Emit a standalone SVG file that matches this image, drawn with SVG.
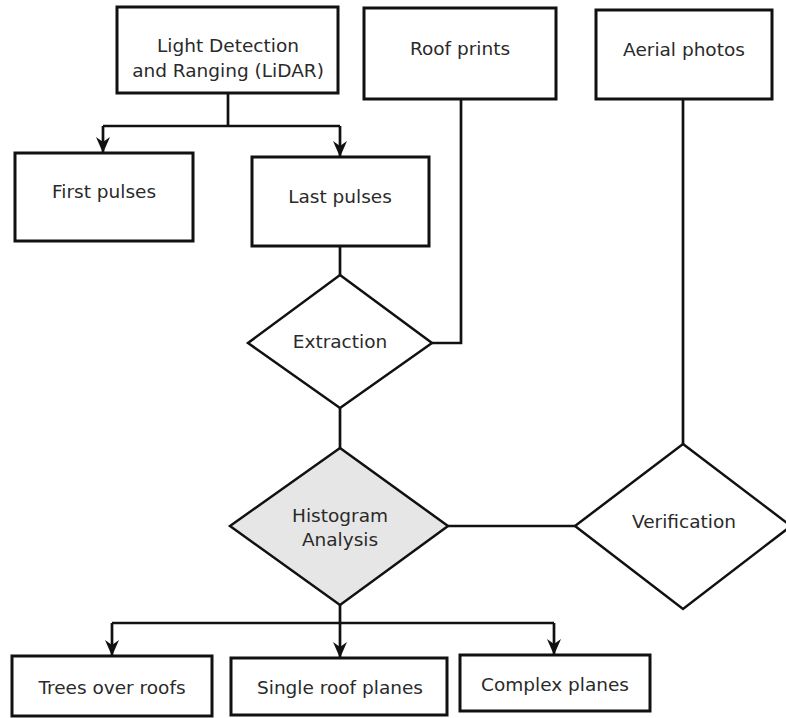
<svg xmlns="http://www.w3.org/2000/svg" width="786" height="718" viewBox="0 0 786 718">
<style>
.box{fill:#fff;stroke:#111;stroke-width:3}
.dia{fill:#fff;stroke:#111;stroke-width:2.5}
.gray{fill:#e6e6e6}
.t{font-family:"DejaVu Sans",Verdana,sans-serif;font-size:18.5px;fill:#2a2a2a;text-anchor:middle;dominant-baseline:central}
.c{fill:none;stroke:#111;stroke-width:2.7}
</style>
<defs>
<marker id="arr" viewBox="0 0 16 14" refX="16" refY="7" markerWidth="16" markerHeight="14" markerUnits="userSpaceOnUse" orient="auto">
<path d="M0,0 L16,7 L0,14 L5,7 z" fill="#111"/>
</marker>
</defs>
<g id="connectors">
<path class="c" d="M228,93 V126"/>
<path class="c" d="M103,126 H340"/>
<path class="c" d="M103,126 V153" marker-end="url(#arr)"/>
<path class="c" d="M340,126 V157" marker-end="url(#arr)"/>
<path class="c" d="M340,246 V275"/>
<path class="c" d="M461,99 V343 H432"/>
<path class="c" d="M340,408 V448"/>
<path class="c" d="M683,99 V444"/>
<path class="c" d="M448,526 H575"/>
<path class="c" d="M340,605 V623"/>
<path class="c" d="M112,623 H554"/>
<path class="c" d="M112,623 V656" marker-end="url(#arr)"/>
<path class="c" d="M340,623 V658" marker-end="url(#arr)"/>
<path class="c" d="M554,623 V655" marker-end="url(#arr)"/>
</g>
<g id="lidar">
<rect class="box" x="117" y="7" width="221" height="86"/>
<text class="t" x="228" y="45">Light Detection</text>
<text class="t" x="228" y="70">and Ranging (LiDAR)</text>
</g>
<g id="roof-prints">
<rect class="box" x="364" y="8" width="192" height="91"/>
<text class="t" x="460" y="48">Roof prints</text>
</g>
<g id="aerial-photos">
<rect class="box" x="596" y="10" width="176" height="89"/>
<text class="t" x="684" y="49">Aerial photos</text>
</g>
<g id="first-pulses">
<rect class="box" x="15" y="153" width="178" height="88"/>
<text class="t" x="104" y="191">First pulses</text>
</g>
<g id="last-pulses">
<rect class="box" x="252" y="157" width="177" height="89"/>
<text class="t" x="340" y="196">Last pulses</text>
</g>
<g id="extraction">
<polygon class="dia" points="340,275 432,343 340,408 248,343"/>
<text class="t" x="340" y="341">Extraction</text>
</g>
<g id="histogram">
<polygon class="dia gray" points="340,448 448,526 340,605 230,526"/>
<text class="t" x="340" y="515">Histogram</text>
<text class="t" x="340" y="539">Analysis</text>
</g>
<g id="verification">
<polygon class="dia" points="683,444 791,526 683,609 575,526"/>
<text class="t" x="684" y="521">Verification</text>
</g>
<g id="trees">
<rect class="box" x="12" y="656" width="200" height="60"/>
<text class="t" x="112" y="687">Trees over roofs</text>
</g>
<g id="single">
<rect class="box" x="231" y="658" width="216" height="57"/>
<text class="t" x="340" y="687">Single roof planes</text>
</g>
<g id="complex">
<rect class="box" x="460" y="655" width="190" height="56"/>
<text class="t" x="555" y="684">Complex planes</text>
</g>
</svg>
